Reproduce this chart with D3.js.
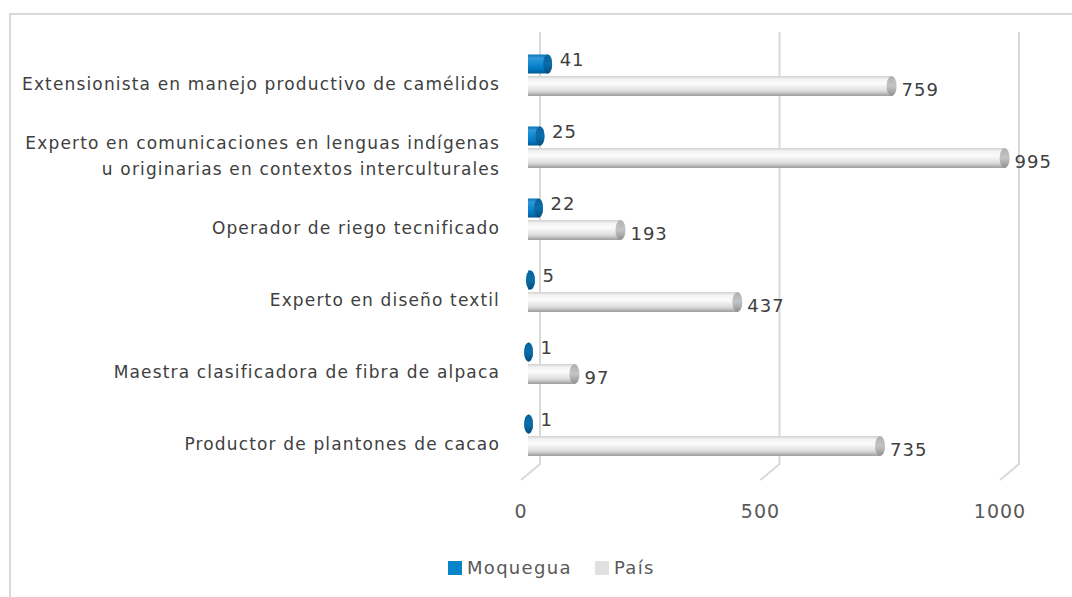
<!DOCTYPE html>
<html>
<head>
<meta charset="utf-8">
<script src="https://cdn.jsdelivr.net/npm/d3@7"></script>
<style>
  body { margin: 0; background: #fff; }
  text { font-family: "DejaVu Sans", sans-serif; }
</style>
</head>
<body>
<div id="chart"></div>
<script>
const categories = [
  ['Extensionista en manejo productivo de camélidos'],
  ['Experto en comunicaciones en lenguas indígenas', 'u originarias en contextos interculturales'],
  ['Operador de riego tecnificado'],
  ['Experto en diseño textil'],
  ['Maestra clasificadora de fibra de alpaca'],
  ['Productor de plantones de cacao']
]
const moquegua = [41, 25, 22, 5, 1, 1]
const pais = [759, 995, 193, 437, 97, 735]
const ticks = [0, 500, 1000]
const seriesNames = ['Moquegua', 'País']

const width = 1072, height = 597

const svg = d3.select('#chart').append('svg')
  .attr('width', width)
  .attr('height', height)

const defs = svg.append('defs')
function grad(id, stops) {
  const g = defs.append('linearGradient').attr('id', id)
    .attr('x1', 0).attr('y1', 0).attr('x2', 0).attr('y2', 1)
  stops.forEach(s => g.append('stop').attr('offset', s[0]).attr('stop-color', s[1]))
}
grad('gGray', [[0, '#cfcfcf'], [0.15, '#f2f2f2'], [0.4, '#fbfbfb'], [0.75, '#dcdcdc'], [1, '#9d9d9d']])
grad('gGrayCap', [[0, '#b0b0b0'], [0.5, '#c4c4c4'], [1, '#8f8f8f']])
grad('gBlue', [[0, '#0b74b6'], [0.2, '#3398da'], [0.45, '#148bd4'], [0.8, '#0075be'], [1, '#005a8f']])
grad('gBlueCap', [[0, '#0a629a'], [0.5, '#0b6ea9'], [1, '#054d7c']])

// chart frame
svg.append('path')
  .attr('d', 'M10,600 L10,14 L1075,14')
  .attr('fill', 'none')
  .attr('stroke', '#d9d9d9')
  .attr('stroke-width', 2)

// back wall scale and front scale (3D offset)
const xBack = d3.scaleLinear().domain([0, 1000]).range([540, 1019])
const xFront = d3.scaleLinear().domain([0, 1000]).range([528, 1007])
const depthX = -19, wallBottom = 464, depthY = 16

const y = d3.scaleBand().domain(d3.range(categories.length)).range([28, 460]).paddingInner(0)

// gridlines on back wall + floor
const grid = svg.append('g')
ticks.forEach(t => {
  const xb = xBack(t)
  grid.append('path')
    .attr('d', `M${xb},32 L${xb},${wallBottom} L${xb + depthX},${wallBottom + depthY}`)
    .attr('fill', 'none')
    .attr('stroke', '#d9d9d9')
    .attr('stroke-width', 2)
})

// tick labels
svg.append('g').selectAll('text')
  .data(ticks).enter().append('text')
  .attr('x', d => xBack(d) + depthX)
  .attr('y', 518)
  .attr('text-anchor', 'middle')
  .attr('fill', '#595959')
  .style('font-size', '19px')
  .style('letter-spacing', '1px')
  .text(d => d)

function cylinder(g, v, cy, h, fill, capFill, rx) {
  const x0 = xFront(0)
  const x1 = Math.max(xFront(v), x0 + 0.5)
  const top = cy - h / 2
  g.append('path')
    .attr('d', `M${x0},${top} L${x1},${top} A${rx},${h / 2} 0 0 1 ${x1},${top + h} L${x0},${top + h} Z`)
    .attr('fill', fill)
  g.append('ellipse')
    .attr('cx', x1).attr('cy', cy)
    .attr('rx', rx).attr('ry', h / 2)
    .attr('fill', capFill)
}

const bars = svg.append('g')
const labels = []
categories.forEach((c, i) => {
  const band = y(i)
  const cyM = band + 36
  const cyP = band + 58
  cylinder(bars, pais[i], cyP, 20, 'url(#gGray)', 'url(#gGrayCap)', 5)
  cylinder(bars, moquegua[i], cyM, 19, 'url(#gBlue)', 'url(#gBlueCap)', 4.5)

  bars.append('text')
    .attr('x', xFront(moquegua[i]) + 12)
    .attr('y', cyM + 2)
    .attr('fill', '#404040')
    .style('font-size', '18px')
    .style('letter-spacing', '1px')
    .text(moquegua[i])
  bars.append('text')
    .attr('x', xFront(pais[i]) + 10)
    .attr('y', cyP + 10)
    .attr('fill', '#404040')
    .style('font-size', '18px')
    .style('letter-spacing', '1px')
    .text(pais[i])

  const lab = bars.append('text')
    .attr('text-anchor', 'end')
    .attr('fill', '#404040')
    .style('font-size', '17px')
  labels.push(lab)
  const lineH = 26
  c.forEach((line, j) => {
    lab.append('tspan')
      .attr('x', 500)
      .attr('y', band + 56 + (j - (c.length - 1) / 2) * lineH + 6)
      .text(line)
  })
})

// spread category labels to the reference width of the first label
const first = categories[0][0]
const w0 = labels[0].node().getComputedTextLength()
const ls = Math.max(0, (478 - w0) / first.length)
labels.forEach(l => l.style('letter-spacing', ls + 'px'))

// legend
const legend = svg.append('g').attr('transform', 'translate(448,558)')
const legColors = ['#0a84c8', '#e0e0e0']
const legX = [0, 147]
seriesNames.forEach((n, i) => {
  legend.append('rect')
    .attr('x', legX[i]).attr('y', 3)
    .attr('width', 14).attr('height', 14)
    .attr('fill', legColors[i])
  legend.append('text')
    .attr('x', legX[i] + 19).attr('y', 16)
    .attr('fill', '#595959')
    .style('font-size', '18px')
    .style('letter-spacing', '1.3px')
    .text(n)
})
</script>
</body>
</html>
